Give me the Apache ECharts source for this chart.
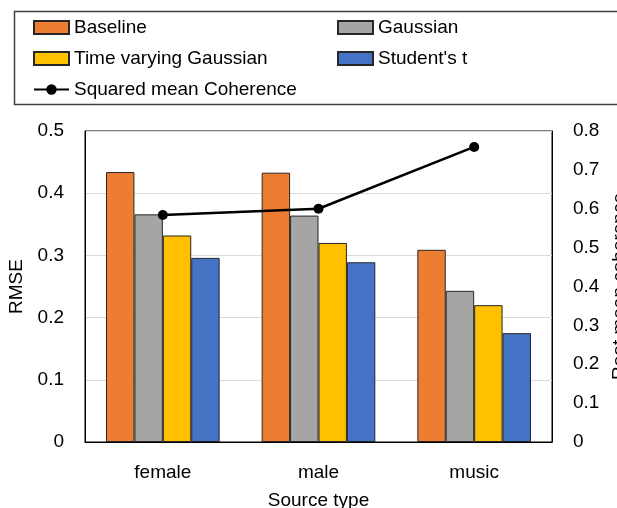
<!DOCTYPE html>
<html>
<head>
<meta charset="utf-8">
<script src="https://cdn.jsdelivr.net/npm/echarts@6/dist/echarts.min.js"></script>
<style>
  html, body { margin: 0; padding: 0; background: #fff; }
  #chart { width: 617px; height: 508px; }
</style>
</head>
<body>
<div id="chart"></div>
<script>
// Source types on the x axis
const categories = ['female', 'male', 'music'];

// RMSE per method (left axis)
const baseline   = [0.434, 0.433, 0.309];
const gaussian   = [0.366, 0.364, 0.243];
const tvGaussian = [0.332, 0.320, 0.220];
const studentT   = [0.296, 0.289, 0.175];

// Squared mean coherence per source type (right axis)
const coherence  = [0.584, 0.600, 0.759];

const FONT = '"Liberation Sans", Arial, sans-serif';
const FS = 19;

const chart = echarts.init(document.getElementById('chart'), null, { renderer: 'canvas' });

function barSeries(name, data, color) {
  return {
    name: name,
    type: 'bar',
    data: data,
    yAxisIndex: 0,
    barGap: '0%',
    barCategoryGap: '27%',
    itemStyle: { color: color, borderColor: '#262626', borderWidth: 1 },
    emphasis: { disabled: true }
  };
}

const legendText = { fontFamily: FONT, fontSize: FS, color: '#000' };

function legendColumn(names, left) {
  return {
    data: names.map(function (n) {
      return n === 'Squared mean Coherence' ? { name: n } : { name: n, icon: 'rect' };
    }),
    orient: 'vertical',
    left: left, top: 18,
    padding: 0,
    itemGap: 12,
    itemWidth: 35, itemHeight: 13,
    textStyle: legendText,
    selectedMode: false
  };
}

chart.setOption({
  animation: false,
  backgroundColor: '#fff',
  textStyle: { fontFamily: FONT },
  graphic: [{
    type: 'rect',
    left: 12,
    top: 9,
    shape: { width: 640, height: 93 },
    style: { fill: 'none', stroke: '#404040', lineWidth: 1.5 },
    silent: true
  }],
  legend: [
    legendColumn(['Baseline', 'Time varying Gaussian', 'Squared mean Coherence'], 33),
    legendColumn(['Gaussian', "Student's t"], 337)
  ],
  grid: {
    left: 85, right: 65, top: 131, bottom: 66,
    show: true, borderColor: '#000', borderWidth: 1,
    containLabel: false,
    outerBoundsMode: 'none'
  },
  xAxis: {
    type: 'category',
    data: categories,
    axisLine: { show: true, lineStyle: { color: '#000', width: 1 } },
    axisTick: { show: false },
    axisLabel: { fontFamily: FONT, fontSize: FS, color: '#000', margin: 21 },
    name: 'Source type',
    nameLocation: 'middle',
    nameGap: 49,
    nameTextStyle: { fontFamily: FONT, fontSize: FS, color: '#000' }
  },
  yAxis: [
    {
      type: 'value',
      min: 0, max: 0.5, interval: 0.1,
      axisLine: { show: true, lineStyle: { color: '#000', width: 1 } },
      axisTick: { show: false },
      axisLabel: { fontFamily: FONT, fontSize: FS, color: '#000', margin: 21 },
      splitLine: { show: true, lineStyle: { color: '#d9d9d9', width: 1 } },
      name: 'RMSE',
      nameLocation: 'middle',
      nameRotate: 90,
      nameGap: 58,
      nameTextStyle: { fontFamily: FONT, fontSize: FS, color: '#000' }
    },
    {
      type: 'value',
      position: 'right',
      min: 0, max: 0.8, interval: 0.1,
      axisLine: { show: true, lineStyle: { color: '#000', width: 1 } },
      axisTick: { show: false },
      axisLabel: { fontFamily: FONT, fontSize: FS, color: '#000', margin: 21 },
      splitLine: { show: false },
      name: 'Root mean coherence',
      nameLocation: 'middle',
      nameRotate: 90,
      nameGap: 52,
      nameTextStyle: { fontFamily: FONT, fontSize: FS, color: '#000' }
    }
  ],
  series: [
    barSeries('Baseline', baseline, '#ED7D31'),
    barSeries('Gaussian', gaussian, '#A5A5A5'),
    barSeries('Time varying Gaussian', tvGaussian, '#FFC000'),
    barSeries("Student's t", studentT, '#4472C4'),
    {
      name: 'Squared mean Coherence',
      type: 'line',
      data: coherence,
      yAxisIndex: 1,
      symbol: 'circle',
      symbolSize: 10,
      lineStyle: { color: '#000', width: 2.5 },
      itemStyle: { color: '#000' },
      z: 5,
      emphasis: { disabled: true }
    }
  ]
});
</script>
</body>
</html>
